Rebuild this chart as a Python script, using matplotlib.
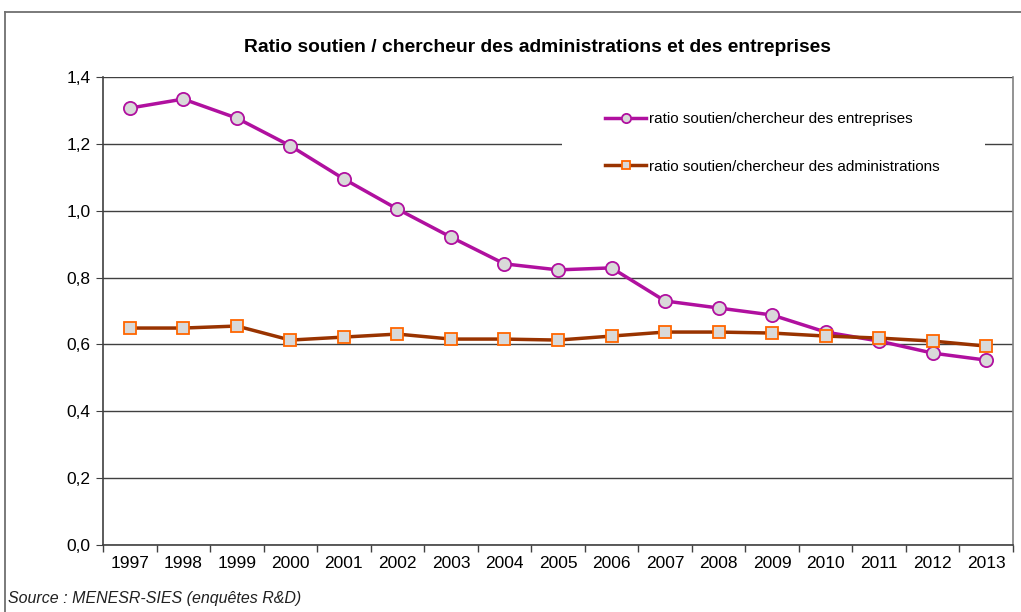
import matplotlib
matplotlib.use("Agg")
import matplotlib.pyplot as plt
from matplotlib.lines import Line2D
from matplotlib.patches import Rectangle
from matplotlib.ticker import FuncFormatter, FixedLocator

years = ["1997", "1998", "1999", "2000", "2001", "2002", "2003", "2004", "2005",
         "2006", "2007", "2008", "2009", "2010", "2011", "2012", "2013"]
entreprises = [1.307, 1.334, 1.277, 1.194, 1.095, 1.005, 0.921, 0.841, 0.823,
               0.829, 0.730, 0.709, 0.688, 0.637, 0.610, 0.574, 0.553]
administrations = [0.649, 0.649, 0.655, 0.613, 0.622, 0.631, 0.616, 0.616, 0.613,
                   0.625, 0.637, 0.637, 0.634, 0.625, 0.619, 0.610, 0.595]
label_ent = "ratio soutien/chercheur des entreprises"
label_adm = "ratio soutien/chercheur des administrations"
title = "Ratio soutien / chercheur des administrations et des entreprises"
source = "Source : MENESR-SIES (enquêtes R&D)"

plt.rcParams['font.family'] = ['Liberation Sans', 'DejaVu Sans']

W, H = 1021, 612
fig = plt.figure(figsize=(W / 100, H / 100), dpi=100)
ax = fig.add_axes([103 / W, 1 - 545 / H, (1013 - 103) / W, (545 - 77) / H])

x = list(range(len(years)))
ax.plot(x, entreprises, color='#B0109F', lw=2.5, marker='o', ms=9.5,
        mfc='#D9D9D9', mec='#B0109F', mew=1.3, label=label_ent, zorder=3)
ax.plot(x, administrations, color='#993300', lw=2.5, marker='s', ms=9,
        mfc='#D9D9D9', mec='#FF6600', mew=1.3, label=label_adm, zorder=4)

ax.set_xlim(-0.5, len(years) - 0.5)
ax.set_ylim(0, 1.4)
ax.set_yticks([0, 0.2, 0.4, 0.6, 0.8, 1.0, 1.2, 1.4])
ax.yaxis.set_major_formatter(FuncFormatter(lambda v, p: f"{v:.1f}".replace('.', ',')))
ax.grid(axis='y', color='#404040', lw=1.0)
ax.set_axisbelow(True)

ax.set_xticks(x)
ax.set_xticklabels(years, fontsize=12.5)
ax.tick_params(axis='x', which='major', length=0, pad=8)
ax.xaxis.set_minor_locator(FixedLocator([i - 0.5 for i in range(len(years) + 1)]))
ax.tick_params(axis='x', which='minor', length=5, color='#404040', width=1)
ax.tick_params(axis='y', length=5, color='#404040', labelsize=12.5, pad=4)

for s in ['left', 'bottom']:
    ax.spines[s].set_color('#404040')
    ax.spines[s].set_linewidth(1.2)
ax.spines['top'].set_visible(False)
ax.spines['right'].set_color('#808080')
ax.spines['right'].set_linewidth(1.2)

# white legend area interrupting the grid
ax.add_artist(Rectangle((562 / W, 1 - 195 / H), (985 - 562) / W, (195 - 98) / H,
                        transform=fig.transFigure, facecolor='white',
                        edgecolor='none', zorder=2))

leg = ax.legend(loc='upper left', bbox_to_anchor=(605 / W, 1 - 112 / H),
                bbox_transform=fig.transFigure, fontsize=11, frameon=False,
                labelspacing=2.2, handlelength=2.7, handletextpad=0.15,
                borderpad=0, borderaxespad=0, markerscale=0.7)
leg.set_zorder(5)

fig.text(537 / W, 1 - 47 / H, title, ha='center', va='center',
         fontsize=13.9, fontweight='bold')
fig.text(8 / W, 1 - 598 / H, source, ha='left', va='center',
         fontsize=11.5, style='italic', color='#202020')

fig.add_artist(Line2D([5 / W, 5 / W], [0, 1 - 12 / H], transform=fig.transFigure,
                      color='#707070', lw=1.3))
fig.add_artist(Line2D([5 / W, 1], [1 - 12 / H, 1 - 12 / H], transform=fig.transFigure,
                      color='#707070', lw=1.3))

fig.savefig("out.png", dpi=100)
